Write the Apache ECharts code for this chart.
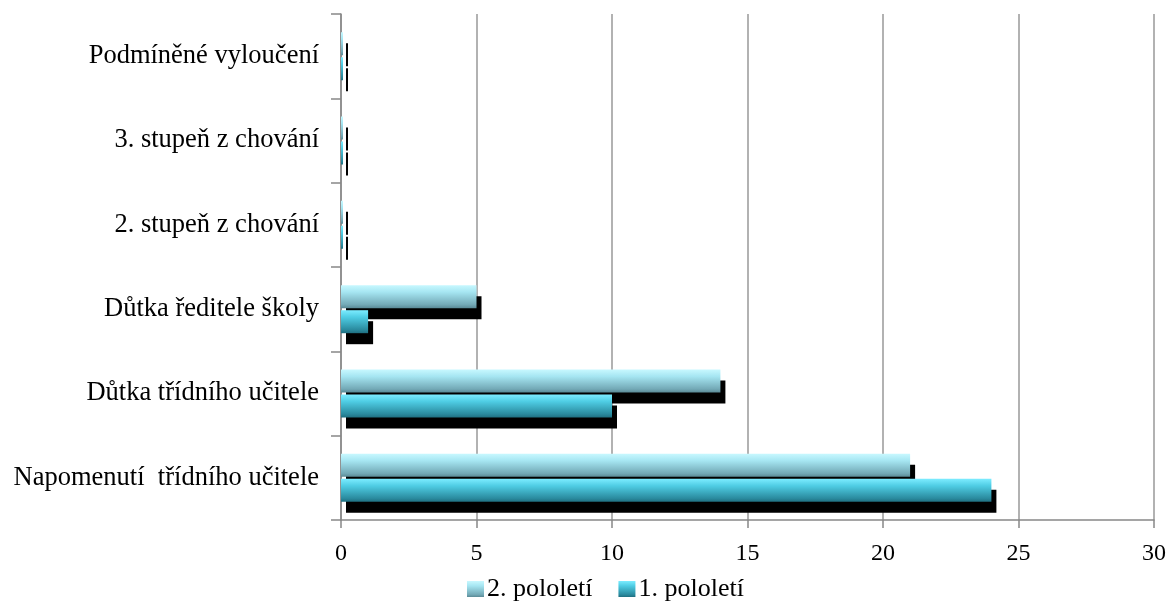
<!DOCTYPE html>
<html><head><meta charset="utf-8">
<script src="https://cdn.jsdelivr.net/npm/echarts@6/dist/echarts.min.js"></script>
<style>html,body{margin:0;padding:0;background:#fff}#c{width:1172px;height:606px}</style>
</head><body><div id="c"></div>
<script>
const categories = ['Napomenutí  třídního učitele','Důtka třídního učitele','Důtka ředitele školy','2. stupeň z chování','3. stupeň z chování','Podmíněné vyloučení'];
const sem1 = [24, 10, 1, 0, 0, 0];
const sem2 = [21, 14, 5, 0, 0, 0];
const xTicks = [0, 5, 10, 15, 20, 25, 30];

const grad2 = new echarts.graphic.LinearGradient(0,0,0,1,[
  {offset:0,color:'#c8f8ff'},{offset:0.3,color:'#a6e6f2'},{offset:0.85,color:'#73a9b6'},{offset:1,color:'#5a8a96'}]);
const grad1 = new echarts.graphic.LinearGradient(0,0,0,1,[
  {offset:0,color:'#7cecff'},{offset:0.3,color:'#4fcde4'},{offset:0.85,color:'#2a8a9e'},{offset:1,color:'#1f6f80'}]);
const font = 'Liberation Serif, Times New Roman, serif';
const chart = echarts.init(document.getElementById('c'));
chart.setOption({
  animation:false,
  grid:{left:341,right:18,top:14,bottom:86,containLabel:false},
  legend:{
    data:['2. pololetí','1. pololetí'], top:571, left:462,
    itemWidth:17,itemHeight:16,itemGap:26,
    textStyle:{fontFamily:font,fontSize:26,color:'#000',padding:[0,0,0,-2]},icon:'rect'
  },
  xAxis:{type:'value',min:0,max:30,interval:5,
    axisLine:{show:true,lineStyle:{color:'#888',width:1.5}},
    axisTick:{show:true,length:8,lineStyle:{color:'#888',width:1.5}},
    axisLabel:{fontFamily:font,fontSize:24,color:'#000',margin:22,formatter:v=>xTicks.includes(v)?String(v):''},
    splitLine:{show:true,lineStyle:{color:'#999',width:1.5}}
  },
  yAxis:{type:'category',data:categories,
    axisLine:{show:true,lineStyle:{color:'#888',width:1.5}},
    axisTick:{show:true,length:10,lineStyle:{color:'#888',width:1.5}},
    axisLabel:{fontFamily:font,fontSize:26.5,color:'#000',margin:22}
  },
  series:[
    {name:'2. pololetí',type:'bar',data:sem2,barWidth:23,barGap:'9%',barMinHeight:2,
     itemStyle:{color:grad2,shadowColor:'#000',shadowOffsetX:5,shadowOffsetY:11,shadowBlur:0}},
    {name:'1. pololetí',type:'bar',data:sem1,barWidth:23,barGap:'9%',barMinHeight:2,
     itemStyle:{color:grad1,shadowColor:'#000',shadowOffsetX:5,shadowOffsetY:11,shadowBlur:0}}
  ]
});
</script></body></html>
